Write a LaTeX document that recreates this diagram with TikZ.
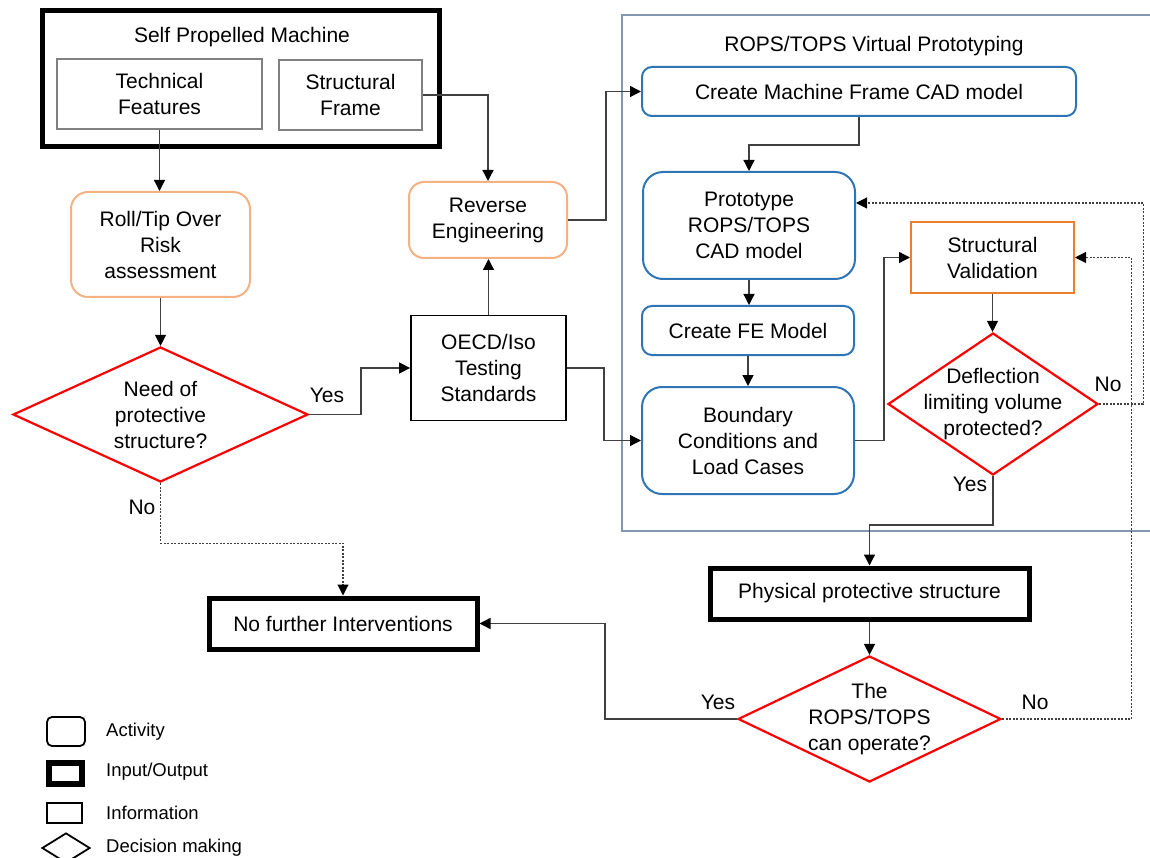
\documentclass[tikz,border=0pt]{standalone}
\usepackage{fontspec}
\setmainfont{Liberation Sans}
\usetikzlibrary{arrows.meta,shapes.geometric}
\definecolor{orl}{HTML}{F4B183}
\definecolor{ord}{HTML}{ED7D31}
\definecolor{blu}{HTML}{2E75B6}
\definecolor{frm}{HTML}{8497B0}
\definecolor{ln}{HTML}{404040}
\definecolor{subg}{HTML}{808080}
\begin{document}
\begin{tikzpicture}[x=1pt,y=-1pt,
  font=\fontsize{21}{26}\selectfont,
  box/.style={align=center,inner sep=2pt},
  iobox/.style={box,draw=black,line width=5pt},
  infobox/.style={box,draw=black,line width=1.8pt},
  subbox/.style={box,draw=subg,line width=1.8pt},
  orbox/.style={box,draw=orl,line width=2pt,rounded corners=17pt},
  bluebox/.style={box,draw=blu,line width=2pt},
  svbox/.style={box,draw=ord,line width=2pt},
  dec/.style={diamond,draw=red,line width=2.2pt,inner sep=0pt},
  conn/.style={draw=ln,line width=1.3pt,-{Triangle[length=11pt,width=11pt,black]}},
  dconn/.style={draw=ln,line width=1.1pt,dash pattern=on 2pt off 1.5pt,-{Triangle[length=11pt,width=11pt,black]}},
  lbl/.style={inner sep=0pt},
  leg/.style={inner sep=0pt,anchor=west,font=\fontsize{18.5}{22}\selectfont}
]
\useasboundingbox (0,0) rectangle (1150,858);
\clip (0,0) rectangle (1150,858);

% virtual prototyping frame
\draw[frm,line width=1.8pt] (1170,15) -- (622,15) -- (622,531) -- (1170,531);
\node[lbl] (vptitle) at (874,46) {ROPS/TOPS Virtual Prototyping};

% self propelled machine
\node[iobox,minimum width=397pt,minimum height=136pt] (spm) at (240.5,79) {};
\node[lbl] (spmtitle) at (242,37) {Self Propelled Machine};
\node[subbox,minimum width=205pt,minimum height=70pt] (tf) at (159.5,94) {Technical\\Features};
\node[subbox,minimum width=143pt,minimum height=70pt] (sf) at (350.5,95) {Structural\\Frame};

\node[orbox,minimum width=179pt,minimum height=105pt] (roll) at (160.5,244.5) {Roll/Tip Over\\Risk\\assessment};
\node[orbox,rounded corners=15pt,minimum width=158pt,minimum height=76pt] (re) at (488,220) {Reverse\\Engineering};
\node[infobox,minimum width=155pt,minimum height=105pt] (oecd) at (488.5,368) {OECD/Iso\\Testing\\Standards};

\node[dec,minimum width=295pt,minimum height=135pt,
  label={[align=center,inner sep=0pt]center:Need of\\protective\\structure?}] (need) at (160.5,414.5) {};

\node[bluebox,rounded corners=10pt,minimum width=434pt,minimum height=49pt] (cm) at (859,91.5) {Create Machine Frame CAD model};
\node[bluebox,rounded corners=20pt,minimum width=212pt,minimum height=107pt] (proto) at (749,225.5) {Prototype\\ROPS/TOPS\\CAD model};
\node[bluebox,rounded corners=10pt,minimum width=212pt,minimum height=49pt] (fe) at (748,330.5) {Create FE Model};
\node[bluebox,rounded corners=20pt,minimum width=212pt,minimum height=107pt] (bound) at (748,440.5) {Boundary\\Conditions and\\Load Cases};
\node[svbox,minimum width=163pt,minimum height=71pt] (sv) at (992.5,257.5) {Structural\\Validation};

\node[dec,minimum width=210pt,minimum height=142pt,
  label={[align=center,inner sep=0pt]center:Deflection\\limiting volume\\protected?}] (defl) at (993,404) {};

\node[iobox,minimum width=319pt,minimum height=51pt] (phys) at (869.5,593.5) {Physical protective structure};
\node[iobox,minimum width=268pt,minimum height=51pt] (nf) at (343,623.5) {No further Interventions};

\node[dec,minimum width=263pt,minimum height=126pt,
  label={[align=center,inner sep=0pt]center:The\\ROPS/TOPS\\can operate?}] (rops) at (869.5,719) {};

% connectors
\draw[conn] (tf.south) -- (tf.south |- roll.north);
\draw[conn] (sf.east) -| (re.north);
\draw[conn] (roll.south) -- (roll.south |- need.north);
\draw[conn] (need.east) -- ++(52,0) |- (oecd.west);
\draw[dconn] (need.south) -- ++(0,60) -| (nf.north);
\draw[conn] (oecd.north) -- (oecd.north |- re.south);
\draw[conn] (oecd.east) -- ++(37,0) |- (bound.west);
\draw[conn] (re.east) -- ++(38,0) |- (cm.west);
\draw[conn] (cm.south) -- ++(0,28) -| (proto.north);
\draw[conn] (proto.south) -- (proto.south |- fe.north);
\draw[conn] (fe.south) -- (fe.south |- bound.north);
\draw[conn] (bound.east) -- ++(29,0) |- (sv.west);
\draw[conn] (sv.south) -- (sv.south |- defl.north);
\draw[dconn] (defl.east) -- ++(44,0) |- ([yshift=22.5pt]proto.east);
\draw[conn] (defl.south) -- ++(0,49) -| (phys.north);
\draw[conn] (phys.south) -- (rops.north);
\draw[conn] (rops.west) -- ++(-132,0) |- (nf.east);
\draw[dconn] (rops.east) -- ++(129,0) |- (sv.east);

% branch labels
\node[lbl] (y1) at (327,395) {Yes};
\node[lbl] (n1) at (142,507) {No};
\node[lbl] (n2) at (1108,384) {No};
\node[lbl] (y2) at (970,484) {Yes};
\node[lbl] (y3) at (718,702) {Yes};
\node[lbl] (n3) at (1035,702) {No};

% legend
\node[draw=black,line width=1.8pt,rounded corners=5pt,minimum width=38pt,minimum height=29pt,inner sep=0pt] (lact) at (66,731.5) {};
\node[draw=black,line width=6pt,minimum width=33pt,minimum height=21pt,inner sep=0pt] (lio) at (65.5,773.5) {};
\node[draw=black,line width=1.8pt,minimum width=35pt,minimum height=20pt,inner sep=0pt] (linfo) at (64.5,813) {};
\node[diamond,draw=black,line width=1.8pt,minimum width=48pt,minimum height=30pt,inner sep=0pt] (ldec) at (66,848) {};
\node[leg] (tact) at (106,731.5) {Activity};
\node[leg] (tio) at (106,772) {Input/Output};
\node[leg] (tinfo) at (106,813) {Information};
\node[leg] (tdec) at (106,848) {Decision making};
\end{tikzpicture}
\end{document}
